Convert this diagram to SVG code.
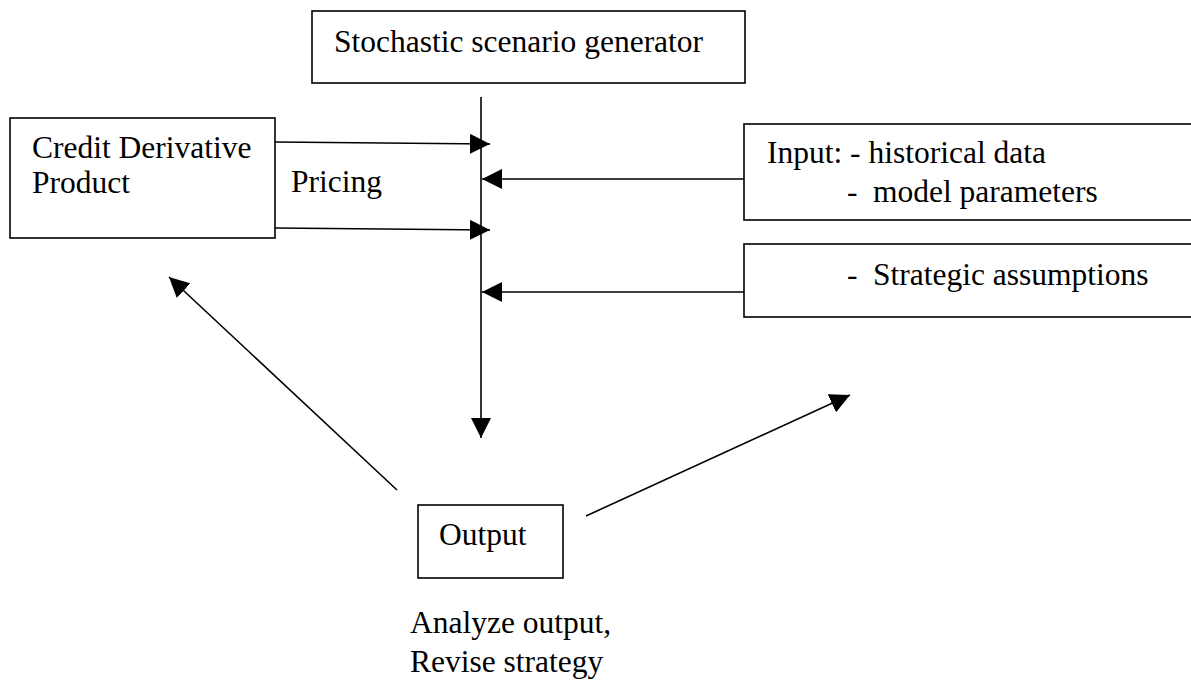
<svg xmlns="http://www.w3.org/2000/svg" width="1191" height="681" viewBox="0 0 1191 681">
<style>
.box{fill:#fff;stroke:#000;stroke-width:1.6}
.t{font-family:"Liberation Serif","Times New Roman",Times,serif;font-size:31.5px;fill:#000}
.c{stroke:#000;stroke-width:1.6;fill:none}
</style>
<defs>
<marker id="ah" markerUnits="userSpaceOnUse" markerWidth="20" markerHeight="20" refX="20" refY="10" orient="auto">
<path d="M0,0 L20,10 L0,20 z" fill="#000"/>
</marker>
</defs>
<rect width="1191" height="681" fill="#fff"/>
<g id="generator">
<rect class="box" x="312" y="11" width="433" height="72"/>
<text class="t" x="334" y="52">Stochastic scenario generator</text>
</g>
<g id="product">
<rect class="box" x="10" y="118" width="265" height="120"/>
<text class="t" x="32" y="158">Credit Derivative</text>
<text class="t" x="32" y="193">Product</text>
</g>
<g id="input">
<rect class="box" x="744" y="124" width="470" height="96"/>
<text class="t" x="767" y="163">Input: - historical data</text>
<text class="t" x="847" y="202">-</text>
<text class="t" x="873" y="202">model parameters</text>
</g>
<g id="assumptions">
<rect class="box" x="744" y="244" width="470" height="73"/>
<text class="t" x="847" y="285">-</text>
<text class="t" x="873" y="285">Strategic assumptions</text>
</g>
<g id="output">
<rect class="box" x="418" y="505" width="145" height="73"/>
<text class="t" x="439" y="545">Output</text>
</g>
<g id="labels">
<text class="t" x="291" y="192">Pricing</text>
<text class="t" x="410" y="633">Analyze output,</text>
<text class="t" x="410" y="672">Revise strategy</text>
</g>
<g id="connectors">
<line class="c" x1="481" y1="97" x2="481" y2="438" marker-end="url(#ah)"/>
<line class="c" x1="275" y1="142" x2="490" y2="144" marker-end="url(#ah)"/>
<line class="c" x1="275" y1="228" x2="490" y2="230" marker-end="url(#ah)"/>
<line class="c" x1="744" y1="179" x2="482" y2="179" marker-end="url(#ah)"/>
<line class="c" x1="744" y1="292" x2="482" y2="292" marker-end="url(#ah)"/>
<line class="c" x1="397" y1="490" x2="169" y2="277" marker-end="url(#ah)"/>
<line class="c" x1="586" y1="516" x2="850" y2="395" marker-end="url(#ah)"/>
</g>
</svg>
